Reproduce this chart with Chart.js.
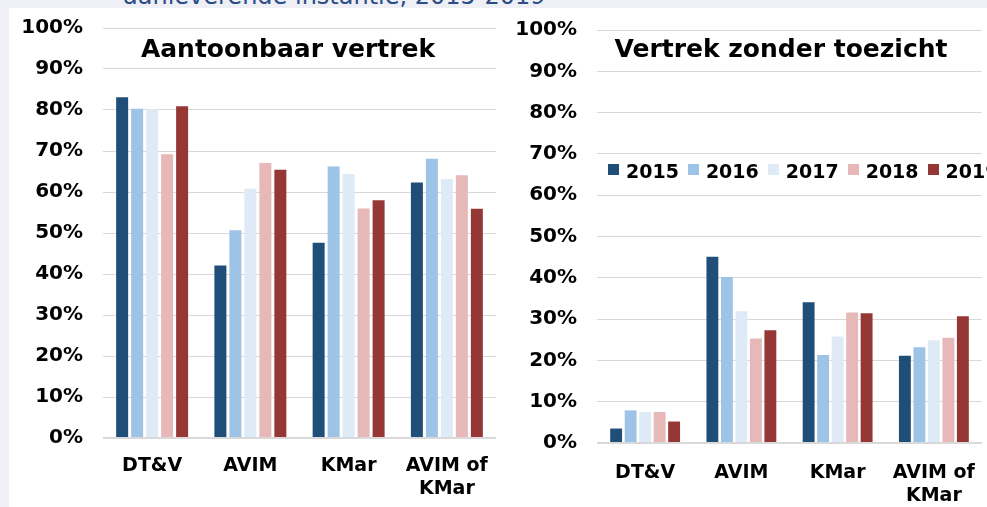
<!DOCTYPE html>
<html lang="nl">
<head>
<meta charset="UTF-8">
<title>Aantoonbaar vertrek / Vertrek zonder toezicht</title>
<script src="https://cdn.jsdelivr.net/npm/chart.js"></script>
<style>
    body {
        margin: 0;
        width: 987px;
        height: 507px;
        overflow: hidden;
        background: #eff0f6;
        position: relative;
        font-family: "DejaVu Sans", Verdana, sans-serif;
    }
    #panel {
        position: absolute;
        left: 9px; top: 8px;
        width: 978px; height: 499px;
        background: #fff;
    }
    .wrap { position: absolute; }
    .subtitle {
        position: absolute;
        left: 123px; top: -16px;
        font-size: 24px; line-height: 24px;
        color: #2c4d86;
        white-space: nowrap;
    }
    .title {
        position: absolute;
        font-size: 25px; line-height: 25px;
        font-weight: bold;
        color: #000;
        white-space: nowrap;
        transform: translateX(-50%);
    }
    #legend {
        position: absolute;
        left: 608px; top: 159px;
        display: flex;
        white-space: nowrap;
        font-size: 19px; font-weight: bold; line-height: 24px;
    }
    #legend span.item { display: flex; align-items: center; margin-right: 9px; }
    #legend span.box {
        width: 11px; height: 11px; margin-right: 7px; display: inline-block;
        position: relative; top: -2px;
    }
</style>
</head>
<body>
<div class="subtitle">aanleverende instantie, 2015-2019</div>
<div id="panel"></div>

<div class="wrap" style="left:9px;top:9px;width:488px;height:498px">
    <canvas id="chartLeft"></canvas>
</div>
<div class="wrap" style="left:497px;top:9px;width:490px;height:498px">
    <canvas id="chartRight"></canvas>
</div>

<div class="title" style="left:288px;top:36px">Aantoonbaar vertrek</div>
<div class="title" style="left:781px;top:36px">Vertrek zonder toezicht</div>
<div id="legend"></div>

<script>
    // gegevens
    const categories = [['DT&V'], ['AVIM'], ['KMar'], ['AVIM of', 'KMar']];
    const years = ['2015', '2016', '2017', '2018', '2019'];
    const colors = ['#1f4e79', '#9dc3e6', '#deebf7', '#e6b9b8', '#953735'];

    // Aantoonbaar vertrek (%), per jaar: DT&V, AVIM, KMar, AVIM of KMar
    const aantoonbaar2015 = [83.1, 42.1, 47.6, 62.3];
    const aantoonbaar2016 = [80.3, 50.7, 66.2, 68.1];
    const aantoonbaar2017 = [80.2, 60.8, 64.4, 63.2];
    const aantoonbaar2018 = [69.2, 67.1, 56.0, 64.1];
    const aantoonbaar2019 = [80.9, 65.4, 58.0, 55.9];

    // Vertrek zonder toezicht (%)
    const zonder2015 = [3.5, 45.1, 34.1, 21.1];
    const zonder2016 = [7.9, 40.2, 21.3, 23.2];
    const zonder2017 = [7.5, 31.9, 25.8, 24.9];
    const zonder2018 = [7.5, 25.3, 31.6, 25.5];
    const zonder2019 = [5.2, 27.3, 31.4, 30.7];

    const yTicks = [0, 10, 20, 30, 40, 50, 60, 70, 80, 90, 100];

    const fontX = { family: '"DejaVu Sans", Verdana, sans-serif', size: 19, weight: 'bold' };
    const fontY = { family: '"DejaVu Sans", Verdana, sans-serif', size: 20, weight: 'bold' };

    function makeDatasets(series, barPct, catPct) {
        return series.map(function(values, i) {
            return {
                label: years[i],
                data: values,
                backgroundColor: colors[i],
                borderWidth: 0,
                barPercentage: barPct,
                categoryPercentage: catPct
            };
        });
    }

    function makeChart(id, series, opts) {
        return new Chart(document.getElementById(id), {
            type: 'bar',
            data: {
                labels: categories,
                datasets: makeDatasets(series, opts.barPct, opts.catPct)
            },
            options: {
                responsive: true,
                maintainAspectRatio: false,
                animation: false,
                layout: { padding: { top: opts.top, right: opts.right, bottom: 0, left: 0 } },
                plugins: {
                    legend: { display: false },
                    tooltip: { enabled: false }
                },
                scales: {
                    x: {
                        grid: { display: false, drawTicks: false },
                        border: { display: false },
                        ticks: {
                            color: '#000',
                            font: fontX,
                            padding: opts.xPad,
                            maxRotation: 0,
                            autoSkip: false
                        },
                        afterFit: function(scale) {
                            scale.height = opts.xHeight;
                            scale.paddingLeft = 0;
                            scale.paddingRight = 0;
                        }
                    },
                    y: {
                        min: 0,
                        max: 100,
                        afterBuildTicks: function(scale) {
                            scale.ticks = yTicks.map(function(v) { return { value: v }; });
                        },
                        grid: {
                            color: '#d9d9d9',
                            lineWidth: function(ctx) { return ctx.tick && ctx.tick.value === 0 ? 2 : 1; },
                            drawTicks: false
                        },
                        border: { display: false },
                        ticks: {
                            color: '#000',
                            font: fontY,
                            padding: 20,
                            callback: function(v) { return v + '%'; }
                        },
                        afterFit: function(scale) {
                            scale.width = opts.yWidth;
                            scale.paddingTop = 0;
                            scale.paddingBottom = 0;
                        }
                    }
                }
            }
        });
    }

    makeChart('chartLeft',
        [aantoonbaar2015, aantoonbaar2016, aantoonbaar2017, aantoonbaar2018, aantoonbaar2019],
        { top: 19, right: 1, xHeight: 69, yWidth: 94, xPad: 17, barPct: 0.8, catPct: 0.763 });

    makeChart('chartRight',
        [zonder2015, zonder2016, zonder2017, zonder2018, zonder2019],
        { top: 21, right: 5, xHeight: 64, yWidth: 100, xPad: 19, barPct: 0.82, catPct: 0.753 });

    // legenda (alleen rechts)
    const legend = document.getElementById('legend');
    years.forEach(function(y, i) {
        const item = document.createElement('span');
        item.className = 'item';
        item.innerHTML = '<span class="box" style="background:' + colors[i] + '"></span>' + y;
        legend.appendChild(item);
    });
</script>
</body>
</html>
